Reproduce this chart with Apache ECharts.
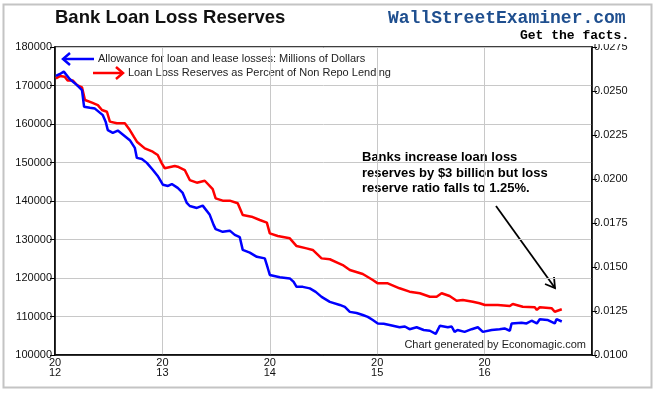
<!DOCTYPE html>
<html>
<head>
<meta charset="utf-8">
<script src="https://cdn.jsdelivr.net/npm/echarts@6/dist/echarts.min.js"></script>
<style>
html,body{margin:0;padding:0;background:#fff;}
#c{width:657px;height:393px;}
</style>
</head>
<body>
<div id="c"></div>
<script>
// Allowance for loan and lease losses (millions of dollars) - left axis
var allowanceDates = ['2012-01-04','2012-01-18','2012-01-31','2012-02-20','2012-03-16','2012-04-02','2012-04-09','2012-04-29','2012-05-16','2012-06-12','2012-06-22','2012-06-29','2012-07-16','2012-08-02','2012-08-22','2012-09-12','2012-09-29','2012-10-06','2012-10-23','2012-11-09','2012-11-29','2012-12-16','2013-01-03','2013-01-20','2013-02-02','2013-02-22','2013-03-11','2013-03-25','2013-04-04','2013-04-28','2013-05-18','2013-06-11','2013-06-24','2013-07-01','2013-07-25','2013-08-18','2013-09-04','2013-09-21','2013-10-01','2013-10-25','2013-11-18','2013-12-15','2013-12-25','2014-01-01','2014-02-04','2014-03-10','2014-03-23','2014-04-02','2014-04-23','2014-05-17','2014-06-06','2014-06-26','2014-07-24','2014-08-27','2014-09-13','2014-09-30','2014-10-23','2014-11-13','2014-11-30','2014-12-17','2015-01-03','2015-01-23','2015-02-12','2015-03-18','2015-04-05','2015-04-21','2015-05-15','2015-06-08','2015-06-29','2015-07-19','2015-08-02','2015-08-29','2015-09-11','2015-09-21','2015-10-01','2015-10-25','2015-11-18','2015-12-09','2015-12-26','2016-01-25','2016-02-21','2016-03-09','2016-03-27','2016-04-02','2016-05-06','2016-05-23','2016-06-09','2016-06-27','2016-07-07','2016-08-02','2016-08-27','2016-09-02','2016-09-20'];
var allowanceValues = [172500,173000,173600,171700,170100,168800,164500,164200,164000,162300,160500,158400,157700,158300,157100,155800,153800,151200,150900,149900,148100,146500,144200,143900,144400,143400,142100,139500,138700,138200,138800,136400,133800,132700,132000,132300,131200,130600,127300,126600,125500,125100,122600,120800,120200,119900,119000,117700,117700,117300,116400,115100,113800,113000,112500,111200,110900,110400,109900,109100,108200,108100,107800,107200,107400,106700,107200,106500,106300,105500,107600,107200,107400,106000,106500,106000,106700,107200,106000,106500,106700,106900,106300,108200,108400,108200,108900,108200,109300,109100,108200,109300,108700];

// Loan loss reserves as percent of non repo lending - right axis
var ratioDates = ['2012-01-04','2012-01-18','2012-02-03','2012-02-13','2012-03-02','2012-03-16','2012-04-02','2012-04-12','2012-05-06','2012-05-26','2012-06-09','2012-06-26','2012-07-06','2012-07-30','2012-08-26','2012-09-12','2012-09-26','2012-10-06','2012-11-02','2012-11-29','2012-12-16','2012-12-30','2013-01-09','2013-02-12','2013-02-22','2013-03-18','2013-04-04','2013-04-28','2013-05-25','2013-06-21','2013-07-01','2013-07-25','2013-08-18','2013-09-14','2013-10-01','2013-10-31','2013-11-28','2013-12-22','2014-01-01','2014-01-28','2014-03-10','2014-04-02','2014-05-06','2014-05-27','2014-06-26','2014-07-24','2014-08-20','2014-09-06','2014-09-30','2014-11-13','2014-12-17','2015-01-03','2015-02-06','2015-03-18','2015-04-21','2015-05-26','2015-06-29','2015-07-22','2015-08-08','2015-09-04','2015-09-28','2015-10-19','2015-11-22','2015-12-15','2016-01-02','2016-02-15','2016-03-27','2016-04-06','2016-05-10','2016-06-20','2016-06-27','2016-07-07','2016-08-17','2016-08-27','2016-09-20'];
var ratioValues = [0.02572,0.02585,0.02581,0.02559,0.02559,0.02534,0.02521,0.02449,0.02434,0.02420,0.02392,0.02382,0.02326,0.02317,0.02317,0.02278,0.02239,0.02212,0.02174,0.02155,0.02136,0.02089,0.02061,0.02074,0.02070,0.02051,0.01994,0.01979,0.01990,0.01942,0.01890,0.01877,0.01877,0.01862,0.01795,0.01786,0.01767,0.01752,0.01691,0.01676,0.01663,0.01619,0.01606,0.01597,0.01549,0.01544,0.01524,0.01511,0.01483,0.01460,0.01426,0.01407,0.01407,0.01379,0.01360,0.01351,0.01331,0.01331,0.01351,0.01335,0.01308,0.01312,0.01303,0.01294,0.01284,0.01284,0.01278,0.01290,0.01274,0.01271,0.01256,0.01271,0.01265,0.01246,0.01260];

var leftTicks = {min:100000, max:180000, step:10000};
var rightTicks = {min:0.0100, max:0.0275, step:0.0025};
var yearTicks = {min:2012, max:2017, step:1};

function toYear(s){
  var p = s.split('-');
  var y = +p[0];
  var start = Date.UTC(y,0,1), end = Date.UTC(y+1,0,1);
  return y + (Date.UTC(y,+p[1]-1,+p[2]) - start)/(end-start);
}
function pairs(d,v){ return d.map(function(s,i){ return [toYear(s), v[i]]; }); }

var chart = echarts.init(document.getElementById('c'), null, {renderer:'canvas'});
var font = 'Arial, "Liberation Sans", sans-serif';
var mono = '"Liberation Mono", "Courier New", monospace';

chart.setOption({
  animation:false,
  backgroundColor:'#fff',
  grid:{left:55, right:65, top:47, bottom:38, show:true, borderColor:'#000', borderWidth:1.5, backgroundColor:'transparent'},
  xAxis:{
    type:'value', min:yearTicks.min, max:yearTicks.max, interval:yearTicks.step,
    axisLine:{show:true, lineStyle:{color:'#000', width:1.5}},
    axisTick:{show:false},
    splitLine:{show:true, lineStyle:{color:'#c8c8c8', width:1}},
    axisLabel:{
      color:'#111', fontFamily:font, fontSize:11, lineHeight:10, margin:3,
      formatter:function(v){ return v>=yearTicks.max ? '' : '20\n' + String(v).slice(2); }
    }
  },
  yAxis:[{
    type:'value', min:leftTicks.min, max:leftTicks.max, interval:leftTicks.step, position:'left',
    axisLine:{show:true, lineStyle:{color:'#000', width:1.5}},
    axisTick:{show:true, length:5, lineStyle:{color:'#000'}},
    splitLine:{show:true, lineStyle:{color:'#c8c8c8', width:1}},
    axisLabel:{color:'#111', fontFamily:font, fontSize:11, margin:3,
      formatter:function(v){ return String(Math.round(v)); }}
  },{
    type:'value', min:rightTicks.min, max:rightTicks.max, interval:rightTicks.step, position:'right',
    axisLine:{show:true, lineStyle:{color:'#000', width:1.5}},
    axisTick:{show:true, length:5, lineStyle:{color:'#000'}},
    splitLine:{show:false},
    axisLabel:{color:'#111', fontFamily:font, fontSize:11, margin:2,
      formatter:function(v){ return v.toFixed(4); }}
  }],
  series:[{
    name:'Loan Loss Reserves as Percent of Non Repo Lending',
    type:'line', yAxisIndex:1, data:pairs(ratioDates, ratioValues),
    showSymbol:false, lineStyle:{color:'#ff0000', width:2.5}, z:3
  },{
    name:'Allowance for loan and lease losses: Millions of Dollars',
    type:'line', yAxisIndex:0, data:pairs(allowanceDates, allowanceValues),
    showSymbol:false, lineStyle:{color:'#0000ff', width:2.5}, z:4
  }],
  graphic:[
    {type:'rect', shape:{x:3.5, y:4.5, width:648, height:383}, style:{fill:'none', stroke:'#c4c4c4', lineWidth:2}, z:0},
    {type:'text', left:55, top:8, style:{text:'Bank Loan Loss Reserves', font:'bold 18.5px '+font, fill:'#111'}},
    {type:'text', left:388, top:9, style:{text:'WallStreetExaminer.com', font:'bold 18px '+mono, fill:'#1f4f8f'}},
    {type:'rect', shape:{x:515, y:28, width:120, height:16}, style:{fill:'#fff'}, z:50},
    {type:'text', left:520, top:29, style:{text:'Get the facts.', font:'bold 13px '+mono, fill:'#000'}, z:51},
    // legend
    {type:'line', shape:{x1:63, y1:59, x2:94, y2:59}, style:{stroke:'#0000ff', lineWidth:2.5}},
    {type:'polyline', shape:{points:[[70,53],[63,59],[70,65]]}, style:{stroke:'#0000ff', lineWidth:2.5, fill:'none'}},
    {type:'text', left:98, top:53, style:{text:'Allowance for loan and lease losses: Millions of Dollars', font:'11px '+font, fill:'#222'}},
    {type:'line', shape:{x1:93, y1:73, x2:123, y2:73}, style:{stroke:'#ff0000', lineWidth:2.5}},
    {type:'polyline', shape:{points:[[116,67],[123,73],[116,79]]}, style:{stroke:'#ff0000', lineWidth:2.5, fill:'none'}},
    {type:'text', left:128, top:67, style:{text:'Loan Loss Reserves as Percent of Non Repo Lending', font:'11px '+font, fill:'#222'}},
    // annotation
    {type:'text', left:362, top:150, style:{text:'Banks increase loan loss\nreserves by $3 billion but loss\nreserve ratio falls to 1.25%.', font:'bold 13px '+font, lineHeight:15.5, fill:'#000'}},
    {type:'line', shape:{x1:496, y1:206, x2:555, y2:288}, style:{stroke:'#000', lineWidth:1.8}},
    {type:'polyline', shape:{points:[[545,284],[555,288],[554,277]]}, style:{stroke:'#000', lineWidth:1.8, fill:'none'}},
    {type:'text', right:71, top:339, style:{text:'Chart generated by Economagic.com', font:'11px '+font, fill:'#222'}}
  ]
});
</script>
</body>
</html>
